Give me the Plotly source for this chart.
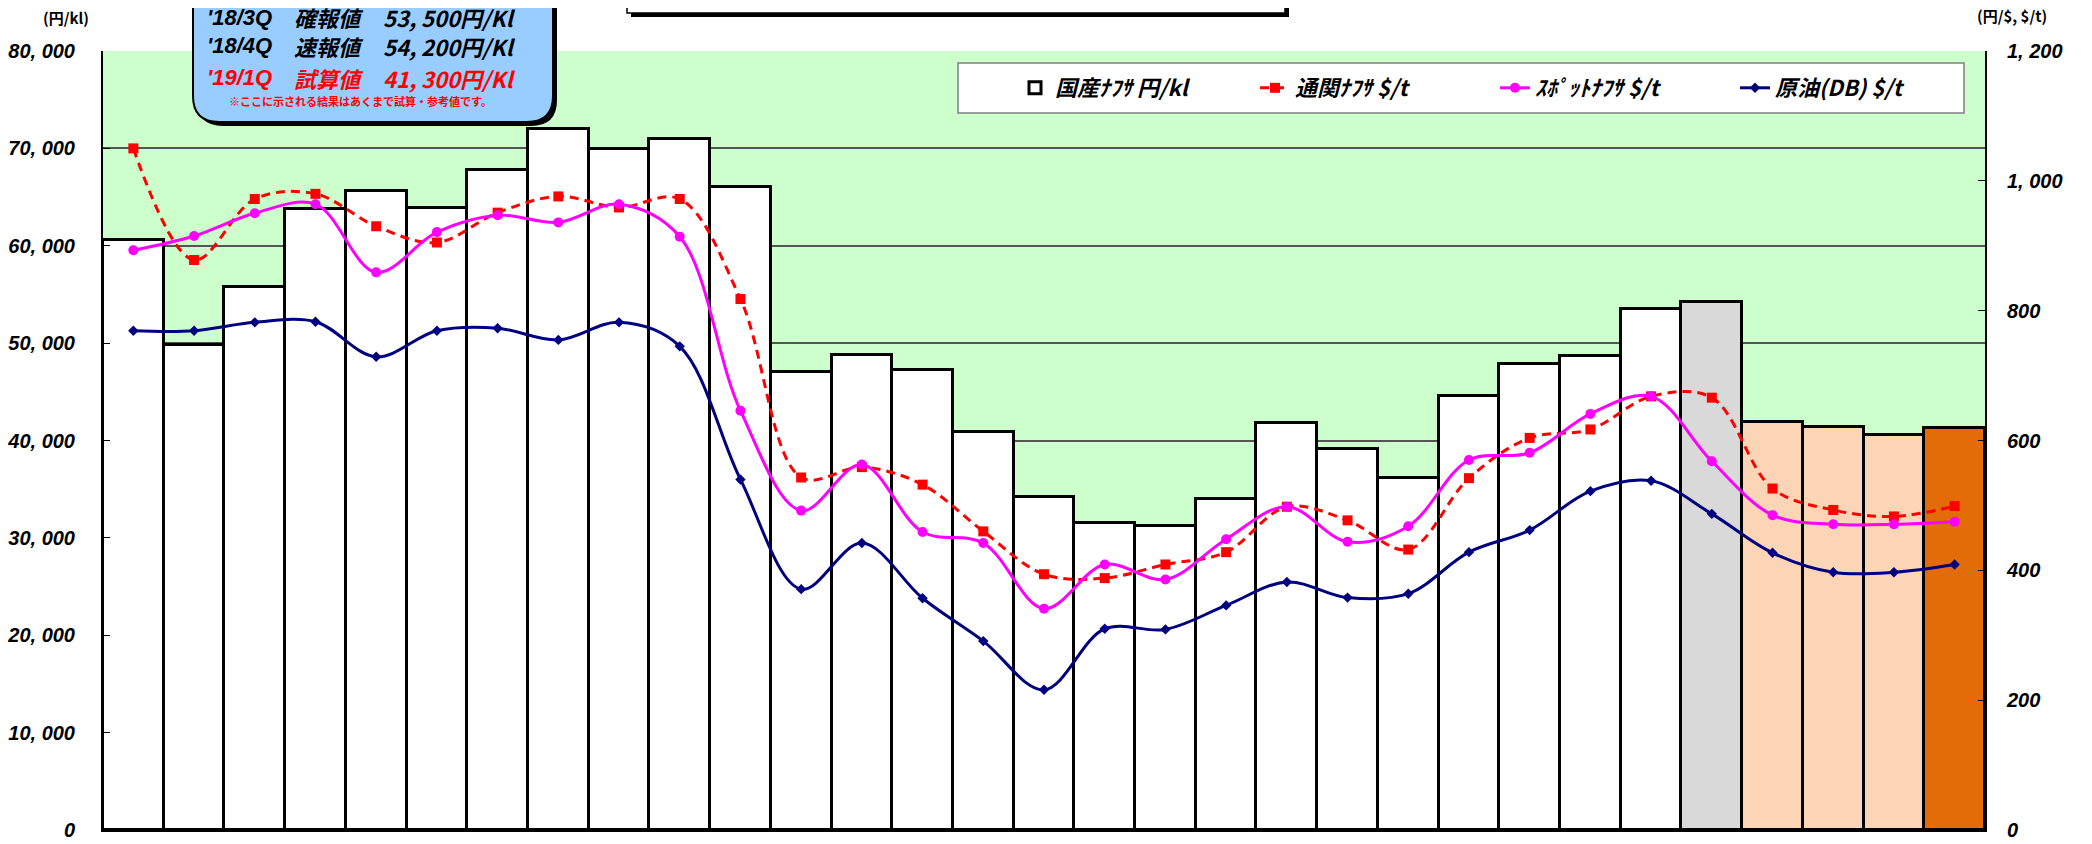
import plotly.graph_objects as go

# ---------------- data ----------------
categories = ["'12/2Q", "'12/3Q", "'12/4Q", "'13/1Q", "'13/2Q", "'13/3Q", "'13/4Q",
              "'14/1Q", "'14/2Q", "'14/3Q", "'14/4Q", "'15/1Q", "'15/2Q", "'15/3Q",
              "'15/4Q", "'16/1Q", "'16/2Q", "'16/3Q", "'16/4Q", "'17/1Q", "'17/2Q",
              "'17/3Q", "'17/4Q", "'18/1Q", "'18/2Q", "'18/3Q", "'18/4Q",
              "'19/1月", "'19/2月", "'19/3月", "'19/1Q"]
domestic_naphtha = [60600, 49800, 55800, 63800, 65600, 63900, 67800, 72000, 69900, 71000,
                    66000, 47000, 48800, 47200, 40900, 34200, 31500, 31200, 34000, 41800,
                    39100, 36100, 44600, 47900, 48700, 53500, 54200, 41900, 41400, 40600, 41300]
customs_naphtha = [1050, 878, 972, 980, 930, 905, 951, 976, 959, 972, 818, 543, 559, 532, 460,
                   394, 388, 409, 428, 498, 477, 432, 542, 604, 617, 668, 666, 526, 493, 483, 499]
spot_naphtha = [893, 915, 950, 964, 859, 921, 947, 936, 964, 914, 646, 492, 563, 459, 442,
                341, 409, 386, 448, 498, 444, 468, 570, 581, 641, 668, 568, 485, 471, 471, 475]
crude_oil = [769, 769, 782, 783, 729, 769, 773, 755, 782, 745, 540, 371, 442, 357, 291,
             216, 310, 309, 346, 382, 358, 364, 428, 462, 522, 538, 487, 427, 397, 397, 409]
bar_colors = ["#FFFFFF"] * 26 + ["#D9D9D9", "#FBD5B5", "#FBD5B5", "#FBD5B5", "#E36C09"]

left_ticks = list(range(0, 80001, 10000))
right_ticks = list(range(0, 1201, 200))
series_names = ["国産ﾅﾌｻ 円/kl", "通関ﾅﾌｻ $/t", "ｽﾎﾟｯﾄﾅﾌｻ $/t", "原油(DB) $/t"]
box_lines = [("'18/3Q", "確報値", "53, 500円/Kl", "#000000"),
             ("'18/4Q", "速報値", "54, 200円/Kl", "#000000"),
             ("'19/1Q", "試算値", "41, 300円/Kl", "#FF0000")]
box_note = "※ここに示される結果はあくまで試算・参考値です。"
title_text = "国産ﾅﾌｻ・通関ﾅﾌｻ・ｽﾎﾟｯﾄﾅﾌｻ・原油価格の推移（四半期）"


def fmt(v):
    return f"{v:,}".replace(",", ", ")


# ---------------- geometry helpers ----------------
# page coordinates of the plot area (the page body adds an 8px offset)
W, H = 2092, 844
OFF = 8
PL, PR, PT, PB = 103, 1985, 51, 830


def px(x):
    return (x - PL) / (PR - PL)


def py(y):
    return (PB - y) / (PB - PT)


def rrect(x0, y0, x1, y1, r):
    return (f"M {px(x0 + r)},{py(y0)} L {px(x1 - r)},{py(y0)} "
            f"Q {px(x1)},{py(y0)} {px(x1)},{py(y0 + r)} L {px(x1)},{py(y1 - r)} "
            f"Q {px(x1)},{py(y1)} {px(x1 - r)},{py(y1)} L {px(x0 + r)},{py(y1)} "
            f"Q {px(x0)},{py(y1)} {px(x0)},{py(y1 - r)} L {px(x0)},{py(y0 + r)} "
            f"Q {px(x0)},{py(y0)} {px(x0 + r)},{py(y0)} Z")


JP = "Noto Sans CJK JP"
NUM = "Liberation Sans"

fig = go.Figure()
fig.add_trace(go.Bar(
    x=categories, y=domestic_naphtha, name=series_names[0],
    marker=dict(color=bar_colors, line=dict(color="#000000", width=3)),
    yaxis="y"))
fig.add_trace(go.Scatter(
    x=categories, y=customs_naphtha, name=series_names[1], yaxis="y2",
    mode="lines+markers", line=dict(color="#FF0000", width=3, dash="9px,6px",
                                    shape="spline", smoothing=1.0),
    marker=dict(symbol="square", size=10, color="#FF0000")))
fig.add_trace(go.Scatter(
    x=categories, y=spot_naphtha, name=series_names[2], yaxis="y2",
    mode="lines+markers", line=dict(color="#FF00FF", width=3, shape="spline", smoothing=1.0),
    marker=dict(symbol="circle", size=10, color="#FF00FF")))
fig.add_trace(go.Scatter(
    x=categories, y=crude_oil, name=series_names[3], yaxis="y2",
    mode="lines+markers", line=dict(color="#000080", width=3, shape="spline", smoothing=1.0),
    marker=dict(symbol="diamond", size=8, color="#000080")))

shapes = []
# legend box
shapes.append(dict(type="rect", xref="paper", yref="paper",
                   x0=px(958), x1=px(1964), y0=py(113), y1=py(63),
                   fillcolor="#FFFFFF", line=dict(color="#808080", width=1.5), layer="above"))
# title box (mostly cut off at the top)
shapes.append(dict(type="rect", xref="paper", yref="paper",
                   x0=px(631), x1=px(1289), y0=py(17), y1=py(-40),
                   fillcolor="#000000", line=dict(width=0), layer="above"))
shapes.append(dict(type="rect", xref="paper", yref="paper",
                   x0=px(627), x1=px(1285), y0=py(13), y1=py(-40),
                   fillcolor="#FFFFFF", line=dict(color="#000000", width=1.5), layer="above"))
# info box with shadow
shapes.append(dict(type="path", xref="paper", yref="paper",
                   path=rrect(197, -40, 557, 126, 26), fillcolor="#000000",
                   line=dict(width=0), layer="above"))
shapes.append(dict(type="path", xref="paper", yref="paper",
                   path=rrect(193, -40, 553, 122, 26), fillcolor="#99CCFF",
                   line=dict(color="#000000", width=2), layer="above"))

annotations = []
line_y = [17, 46, 78]
for (q, kind, val, col), yy in zip(box_lines, line_y):
    for txt, xx, fam in ((q, 206, NUM), (kind, 293, JP), (val, 382, JP)):
        annotations.append(dict(xref="paper", yref="paper", x=px(xx), y=py(yy),
                                xanchor="left", yanchor="middle", showarrow=False,
                                borderpad=0,
                                text=txt, font=dict(family=fam, size=22, color=col,
                                                    weight="bold", style="italic")))
annotations.append(dict(xref="paper", yref="paper", x=px(360), y=py(101),
                        xanchor="center", yanchor="middle", showarrow=False,
                        text=box_note, font=dict(family=JP, size=11, color="#FF0000",
                                                 weight="bold")))
annotations.append(dict(xref="paper", yref="paper", x=px(956), y=py(-6),
                        xanchor="center", yanchor="middle", showarrow=False,
                        text=title_text, font=dict(family=JP, size=22, color="#000000",
                                                   weight="bold", style="italic")))
annotations.append(dict(xref="paper", yref="paper", x=px(66), y=py(17),
                        xanchor="center", yanchor="middle", showarrow=False,
                        text="(円/kl)", font=dict(family=JP, size=15, color="#000000",
                                                  weight="bold")))
annotations.append(dict(xref="paper", yref="paper", x=px(2012), y=py(15),
                        xanchor="center", yanchor="middle", showarrow=False,
                        text="(円/$, $/t)", font=dict(family=JP, size=15, color="#000000",
                                                      weight="bold")))

tickfont = dict(family=NUM, size=20, color="#000000", weight="bold", style="italic")

fig.update_layout(
    width=W, height=H,
    margin=dict(l=PL - OFF, r=W - (PR - OFF), t=PT - OFF, b=H - (PB - OFF), pad=0,
                autoexpand=False),
    paper_bgcolor="#FFFFFF", plot_bgcolor="#CCFFCC",
    bargap=0,
    showlegend=True,
    legend=dict(orientation="h", x=px(1015), xanchor="left", y=py(88), yanchor="middle",
                bgcolor="rgba(0,0,0,0)", borderwidth=0,
                entrywidth=195, entrywidthmode="pixels",
                font=dict(family=JP, size=22, color="#000000", weight="bold", style="italic")),
    xaxis=dict(type="category", range=[-0.5, len(categories) - 0.5], automargin=False,
               showticklabels=False, ticks="", showgrid=False,
               showline=True, linecolor="#000000", linewidth=2, zeroline=False),
    yaxis=dict(range=[0, 80000], tickvals=left_ticks, ticktext=[fmt(v) for v in left_ticks],
               automargin=False,
               showgrid=True, gridcolor="#555555", gridwidth=1.5,
               ticks="inside", ticklen=7, tickcolor="#000000", tickwidth=1,
               ticklabelstandoff=22,
               showline=True, linecolor="#000000", linewidth=2, zeroline=False,
               tickfont=tickfont),
    yaxis2=dict(range=[0, 1200], overlaying="y", side="right", automargin=False,
                tickvals=right_ticks, ticktext=[fmt(v) for v in right_ticks],
                showgrid=False, ticks="inside", ticklen=7, tickcolor="#000000", tickwidth=1,
                ticklabelstandoff=16,
                showline=True, linecolor="#000000", linewidth=2, zeroline=False,
                tickfont=tickfont),
    shapes=shapes, annotations=annotations,
)

fig.write_html("out.html")
